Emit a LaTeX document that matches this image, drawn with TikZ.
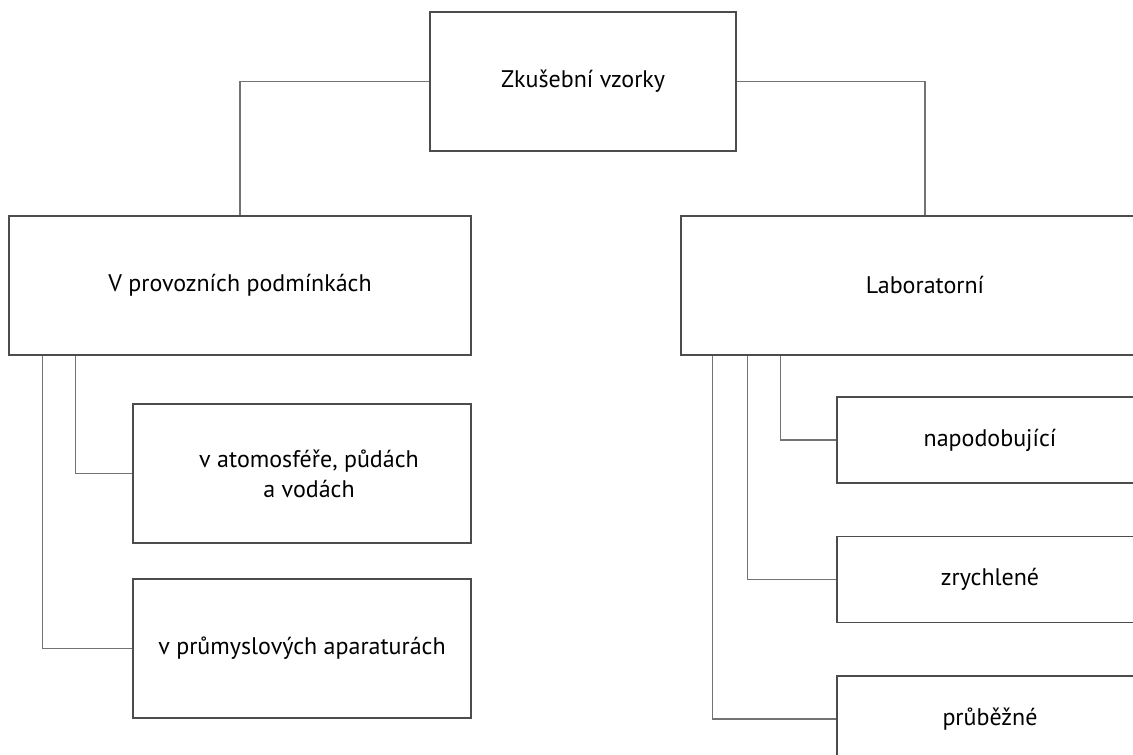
\documentclass[tikz,border=0pt]{standalone}
\usepackage{fontspec}
\setmainfont{PT Sans}
\begin{document}
\begin{tikzpicture}[x=1pt,y=-1pt,
  box/.style={draw=black!70,line width=1.2pt,fill=white,minimum height=139pt,align=center,
    font=\fontsize{24}{30}\selectfont,inner sep=0pt},
  sbox/.style={box,minimum height=86pt},
  conn/.style={draw=black!55,line width=1.1pt}]
\useasboundingbox (0,0) rectangle (1133,755);
\clip (0,0) rectangle (1133,755);
\node[box,minimum width=306pt] (top) at (583,81.5) {\raisebox{3pt}{Zkušební vzorky}};
\node[box,minimum width=462pt] (left) at (240,285.5) {V provozních podmínkách};
\node[box,minimum width=488pt] (right) at (925,285.5) {Laboratorní};
\node[box,minimum width=338pt] (c1) at (302,473.5) {\hspace*{14pt}v atomosféře, půdách\\\hspace*{14pt}a vodách};
\node[box,minimum width=338pt] (c2) at (302,648.5) {\raisebox{5pt}{v průmyslových aparaturách}};
\node[sbox,minimum width=306pt] (r1) at (990,440) {napodobující};
\node[sbox,minimum width=306pt] (r2) at (990,579.5) {zrychlené};
\node[sbox,minimum width=306pt] (r3) at (990,719) {průběžné};
\draw[conn] (top.west) -| (left.north);
\draw[conn] (top.east) -| (right.north);
\draw[conn] ([xshift=67pt]left.south west) |- (c1.west);
\draw[conn] ([xshift=34pt]left.south west) |- (c2.west);
\draw[conn] ([xshift=100pt]right.south west) |- (r1.west);
\draw[conn] ([xshift=67pt]right.south west) |- (r2.west);
\draw[conn] ([xshift=32pt]right.south west) |- (r3.west);
\end{tikzpicture}
\end{document}
